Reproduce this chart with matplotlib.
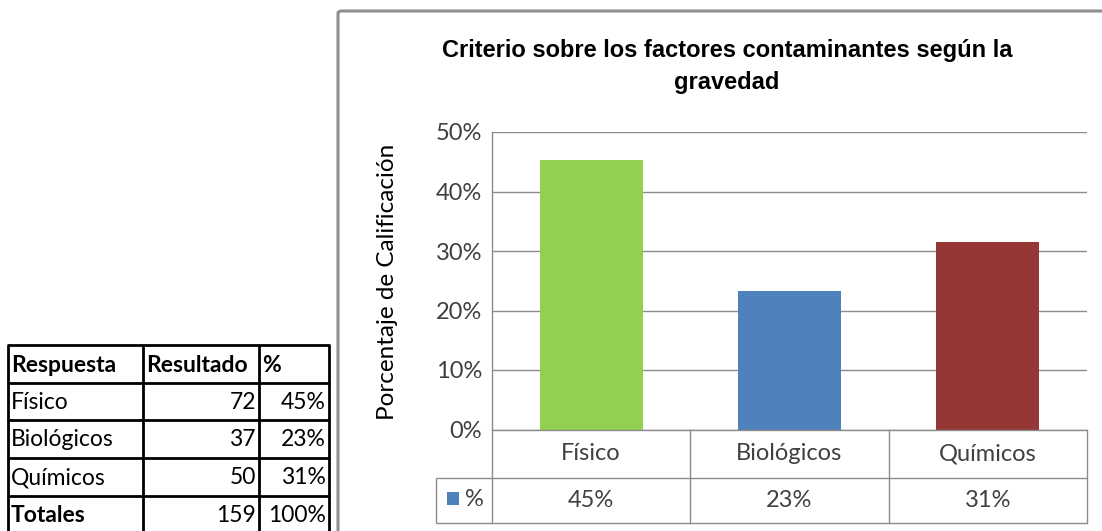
import matplotlib
matplotlib.use("Agg")
import matplotlib.pyplot as plt
from matplotlib.lines import Line2D
from matplotlib.patches import Rectangle, FancyBboxPatch
from matplotlib.transforms import blended_transform_factory

# ---- data ----
categories = ["Físico", "Biológicos", "Químicos"]
counts = [72, 37, 50]
total = 159
pct_values = [72 / 159, 37 / 159, 50 / 159]
pct_labels = ["45%", "23%", "31%"]
bar_colors = ["#92D050", "#4F81BD", "#953735"]
yticks = [0.0, 0.1, 0.2, 0.3, 0.4, 0.5]
ytick_labels = ["0%", "10%", "20%", "30%", "40%", "50%"]
title = "Criterio sobre los factores contaminantes según la\ngravedad"
ylabel = "Porcentaje de Calificación"
table_header = ["Respuesta", "Resultado", "%"]
table_pct = ["45%", "23%", "31%"]
total_label = "Totales"
total_pct = "100%"
series_name = "%"

W, H = 1102, 531
fig = plt.figure(figsize=(W / 100, H / 100), dpi=100)
fig.patch.set_facecolor("white")

FONT = ["Lato", "DejaVu Sans"]
NARROW = ["Liberation Sans Narrow", "Liberation Sans", "DejaVu Sans"]
GRID = "#8c8c8c"
TXT = "#404040"


def fx(x):
    return x / W


def fy(y):
    return 1 - y / H


def hline(x0, x1, y, color=GRID, lw=1.0):
    fig.add_artist(Line2D([fx(x0), fx(x1)], [fy(y), fy(y)], color=color, lw=lw,
                          transform=fig.transFigure, solid_capstyle="butt"))


def vline(x, y0, y1, color=GRID, lw=1.0):
    fig.add_artist(Line2D([fx(x), fx(x)], [fy(y0), fy(y1)], color=color, lw=lw,
                          transform=fig.transFigure, solid_capstyle="butt"))


# ---- chart frame ----
frame = FancyBboxPatch((fx(338), fy(560)), fx(800), fy(11) - fy(560),
                       boxstyle="round,pad=0,rounding_size=0.004",
                       transform=fig.transFigure, facecolor="none",
                       edgecolor="#8f8f8f", lw=2.2)
fig.add_artist(frame)

# ---- axes ----
left, right, top, bottom = 492, 1087, 132, 429.5
ax = fig.add_axes([fx(left), fy(bottom), fx(right - left), (bottom - top) / H])
x = list(range(len(categories)))
ax.bar(x, pct_values, width=0.518, color=bar_colors, zorder=3)
ax.set_xlim(-0.5, len(categories) - 0.5)
ax.set_ylim(0, 0.5)
ax.set_yticks(yticks)
ax.set_yticklabels(ytick_labels, family=FONT, fontsize=17, color=TXT)
ax.tick_params(axis="y", length=0, pad=7)
ax.set_xticks([])
ax.grid(axis="y", color=GRID, lw=1.0, zorder=0)
for s in ["top", "right", "bottom"]:
    ax.spines[s].set_visible(False)
ax.spines["left"].set_color(GRID)
ax.spines["left"].set_linewidth(1.0)

fig.text(fx(388), fy(282), ylabel, rotation=90, ha="center", va="center",
         family=FONT, fontsize=17.5, color="black")

fig.text(fx(727), fy(67), title, ha="center", va="center", family=NARROW,
         fontweight="bold", fontsize=17, color="black", linespacing=1.5)

# ---- chart data table ----
row1, row2, row3 = 429.5, 478, 523
hline(left, right, row1)
hline(436, right, row2)
hline(436, right, row3)
bt = blended_transform_factory(ax.transData, fig.transFigure)
for i in range(len(categories) + 1):
    xb = i - 0.5
    ax.add_line(Line2D([xb, xb], [fy(row1), fy(row3)], color=GRID, lw=1.0,
                       transform=bt, clip_on=False))
vline(436, row2, row3)
for i, (c, p) in enumerate(zip(categories, pct_labels)):
    ax.text(i, fy((row1 + row2) / 2), c, transform=bt, ha="center", va="center",
            family=FONT, fontsize=17, color=TXT)
    ax.text(i, fy((row2 + row3) / 2), p, transform=bt, ha="center", va="center",
            family=FONT, fontsize=17, color=TXT)
fig.add_artist(Rectangle((fx(447), fy(505)), fx(12), 13 / H, transform=fig.transFigure,
                         facecolor=bar_colors[1], edgecolor="none"))
fig.text(fx(465), fy(500), series_name, ha="left", va="center", family=FONT,
         fontsize=17, color=TXT)

# ---- left data table ----
cols = [8, 143, 259, 329]
rows = [345, 383, 420, 458, 496, 534]
for yy in rows:
    hline(cols[0] - 1, cols[-1] + 1, yy, color="black", lw=2.0)
for xx in cols:
    vline(xx, rows[0], rows[-1], color="black", lw=2.0)


def cell_text(col, row, s, align="left", bold=False):
    y = (rows[row] + rows[row + 1]) / 2 + 1
    if align == "left":
        xx, ha = cols[col] + 3, "left"
    else:
        xx, ha = cols[col + 1] - 3, "right"
    fig.text(fx(xx), fy(y), s, ha=ha, va="center", family=FONT, fontsize=16.5,
             fontweight="bold" if bold else "normal", color="black")


for j, h in enumerate(table_header):
    cell_text(j, 0, h, bold=True)
for i, (c, n, p) in enumerate(zip(categories, counts, table_pct)):
    cell_text(0, i + 1, c)
    cell_text(1, i + 1, str(n), align="right")
    cell_text(2, i + 1, p, align="right")
cell_text(0, 4, total_label, bold=True)
cell_text(1, 4, str(total), align="right")
cell_text(2, 4, total_pct, align="right")

fig.savefig("out.png", dpi=100)
